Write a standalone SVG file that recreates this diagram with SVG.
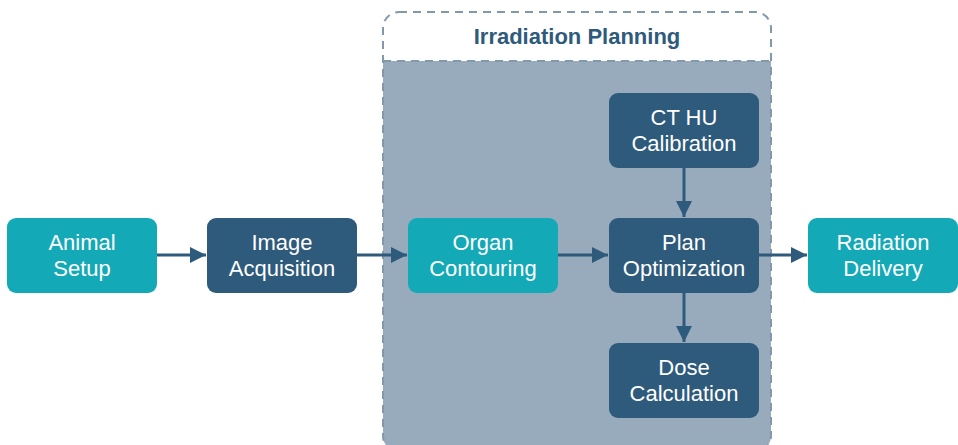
<svg xmlns="http://www.w3.org/2000/svg" width="958" height="445" viewBox="0 0 958 445">
  <defs>
    <marker id="arrow" viewBox="0 0 10 10" refX="10" refY="5" markerWidth="5.5" markerHeight="5.5" orient="auto" markerUnits="strokeWidth">
      <path d="M0,0 L10,5 L0,10 z" fill="#2e5a7c"/>
    </marker>
    <clipPath id="clusterClip">
      <rect x="383" y="12" width="388" height="440" rx="16"/>
    </clipPath>
  </defs>
  <style>
    .node text { font-family: "Liberation Sans", Arial, sans-serif; font-size: 22px; fill: #ffffff; text-anchor: middle; }
    .teal rect { fill: #13a9b6; }
    .dark rect { fill: #2e5a7c; }
    .edge { stroke: #2e5a7c; stroke-width: 3; fill: none; marker-end: url(#arrow); }
    .title { font-family: "Liberation Sans", Arial, sans-serif; font-size: 22px; font-weight: bold; fill: #2e5a7c; text-anchor: middle; }
  </style>

  <rect width="958" height="445" fill="#ffffff"/>

  <!-- Irradiation Planning cluster -->
  <g id="cluster-planning">
    <rect x="383" y="61" width="388" height="400" fill="#97abbd" clip-path="url(#clusterClip)"/>
    <rect x="383" y="12" width="388" height="440" rx="16" fill="none" stroke="#8299ad" stroke-width="2" stroke-dasharray="8 6"/>
    <line x1="383" y1="61" x2="771" y2="61" stroke="#8299ad" stroke-width="2" stroke-dasharray="8 6"/>
    <text class="title" x="577" y="44">Irradiation Planning</text>
  </g>

  <!-- Connectors -->
  <g id="connectors">
    <line class="edge" x1="157" y1="255" x2="206" y2="255"/>
    <line class="edge" x1="357" y1="255" x2="407" y2="255"/>
    <line class="edge" x1="558" y1="255" x2="608" y2="255"/>
    <line class="edge" x1="759" y1="255" x2="807" y2="255"/>
    <line class="edge" x1="684" y1="168" x2="684" y2="217"/>
    <line class="edge" x1="684" y1="293" x2="684" y2="342"/>
  </g>

  <g id="animal-setup" class="node teal">
    <rect x="7" y="218" width="150" height="75" rx="9"/>
    <text x="82" y="250">Animal</text>
    <text x="82" y="276">Setup</text>
  </g>

  <g id="image-acquisition" class="node dark">
    <rect x="207" y="218" width="150" height="75" rx="9"/>
    <text x="282" y="250">Image</text>
    <text x="282" y="276">Acquisition</text>
  </g>

  <g id="organ-contouring" class="node teal">
    <rect x="408" y="218" width="150" height="75" rx="9"/>
    <text x="483" y="250">Organ</text>
    <text x="483" y="276">Contouring</text>
  </g>

  <g id="ct-hu-calibration" class="node dark">
    <rect x="609" y="93" width="150" height="75" rx="9"/>
    <text x="684" y="125">CT HU</text>
    <text x="684" y="151">Calibration</text>
  </g>

  <g id="plan-optimization" class="node dark">
    <rect x="609" y="218" width="150" height="75" rx="9"/>
    <text x="684" y="250">Plan</text>
    <text x="684" y="276">Optimization</text>
  </g>

  <g id="dose-calculation" class="node dark">
    <rect x="609" y="343" width="150" height="75" rx="9"/>
    <text x="684" y="375">Dose</text>
    <text x="684" y="401">Calculation</text>
  </g>

  <g id="radiation-delivery" class="node teal">
    <rect x="808" y="218" width="150" height="75" rx="9"/>
    <text x="883" y="250">Radiation</text>
    <text x="883" y="276">Delivery</text>
  </g>
</svg>
